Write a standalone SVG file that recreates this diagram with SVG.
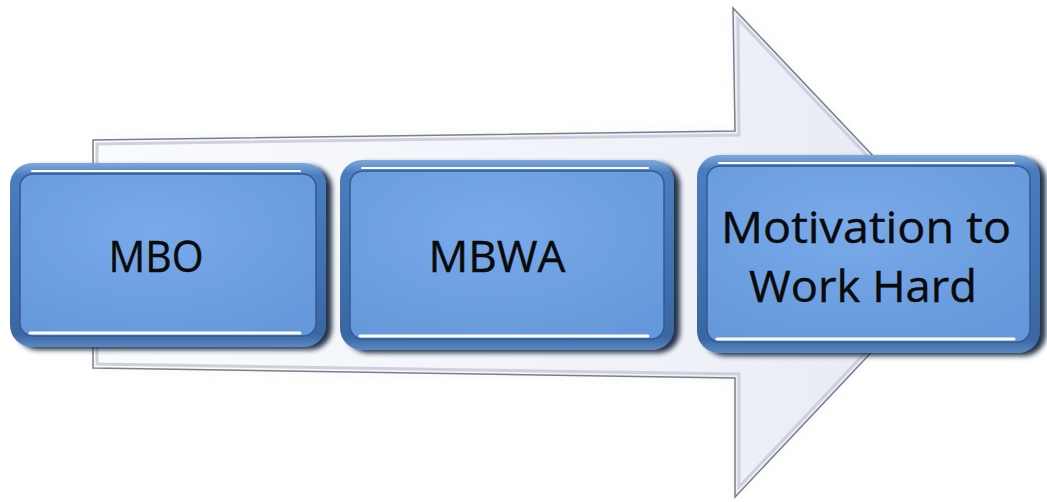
<svg xmlns="http://www.w3.org/2000/svg" width="1047" height="502" viewBox="0 0 1047 502">
  <defs>
    <linearGradient id="arrowFill" x1="0" y1="0" x2="1" y2="0">
      <stop offset="0" stop-color="#fafbfd"/>
      <stop offset="0.7" stop-color="#eff1f8"/>
      <stop offset="1" stop-color="#e4e8f3"/>
    </linearGradient>
    <linearGradient id="rim" x1="0" y1="0" x2="0" y2="1">
      <stop offset="0" stop-color="#7ea9dd"/>
      <stop offset="0.07" stop-color="#4a7dbe"/>
      <stop offset="0.5" stop-color="#4272b2"/>
      <stop offset="0.93" stop-color="#3a67a3"/>
      <stop offset="1" stop-color="#5a89c4"/>
    </linearGradient>
    <radialGradient id="face" cx="0.45" cy="0.35" r="0.75">
      <stop offset="0" stop-color="#78aaea"/>
      <stop offset="1" stop-color="#6598da"/>
    </radialGradient>
    <filter id="shadow" x="-10%" y="-10%" width="125%" height="125%">
      <feGaussianBlur in="SourceAlpha" stdDeviation="2.5"/>
      <feOffset dx="6" dy="3" result="b"/>
      <feFlood flood-color="#0f1f36" flood-opacity="0.9"/>
      <feComposite in2="b" operator="in"/>
      <feMerge>
        <feMergeNode/>
        <feMergeNode in="SourceGraphic"/>
      </feMerge>
    </filter>
    <filter id="haze" x="-5%" y="-5%" width="110%" height="110%">
      <feGaussianBlur stdDeviation="6"/>
    </filter>
  </defs>
  <style>
    .rim { fill: url(#rim); }
    .face { fill: url(#face); stroke: #315b94; stroke-width: 1.5; }
    .hi { fill: none; stroke: #ffffff; stroke-linecap: round; }
    .label { font-family: "Open Sans", "Liberation Sans", sans-serif; font-size: 44px; fill: #0a0a0a; text-anchor: middle; stroke: #0a0a0a; stroke-width: 0.4; }
  </style>

  <rect width="1047" height="502" fill="#ffffff"/>

  <!-- big background arrow -->
  <g id="arrow">
    <polygon points="93,140 735,131 733,8 965,253 735,497 735,378 93,368" fill="#eceef2" filter="url(#haze)" opacity="0.6"/>
    <polygon points="93,140 735,131 733,8 965,253 735,497 735,378 93,368" fill="url(#arrowFill)" stroke="#7c7f88" stroke-width="1.5" stroke-linejoin="miter"/>
    <polygon points="97,144 739,135 738,19 959,253 739,487 739,374 97,364" fill="none" stroke="#cdd1de" stroke-width="3"/>
  </g>

  <!-- process steps -->
  <g id="step-mbo" filter="url(#shadow)">
    <rect class="rim" x="10" y="163" width="316" height="184" rx="22"/>
    <rect class="face" x="20" y="174" width="296" height="162" rx="13"/>
    <path class="hi" d="M32,171 H300" stroke-width="2"/>
    <path class="hi" d="M30,333 H300" stroke-width="3"/>
  </g>
  <g id="step-mbwa" filter="url(#shadow)">
    <rect class="rim" x="340" y="160" width="334" height="190" rx="22"/>
    <rect class="face" x="350" y="171" width="314" height="168" rx="13"/>
    <path class="hi" d="M362,168 H648" stroke-width="2"/>
    <path class="hi" d="M360,336 H648" stroke-width="3"/>
  </g>
  <g id="step-motivation" filter="url(#shadow)">
    <rect class="rim" x="697" y="155" width="343" height="198" rx="22"/>
    <rect class="face" x="707" y="166" width="323" height="176" rx="13"/>
    <path class="hi" d="M719,163 H1014" stroke-width="2"/>
    <path class="hi" d="M717,339 H1014" stroke-width="3"/>
  </g>

  <!-- labels -->
  <g id="labels">
    <text class="label" x="156" y="272" textLength="95" lengthAdjust="spacingAndGlyphs">MBO</text>
    <text class="label" x="497" y="272" textLength="137" lengthAdjust="spacingAndGlyphs">MBWA</text>
    <text class="label" x="866" y="243" textLength="290" lengthAdjust="spacingAndGlyphs">Motivation to</text>
    <text class="label" x="863" y="302" textLength="228" lengthAdjust="spacingAndGlyphs">Work Hard</text>
  </g>
</svg>
